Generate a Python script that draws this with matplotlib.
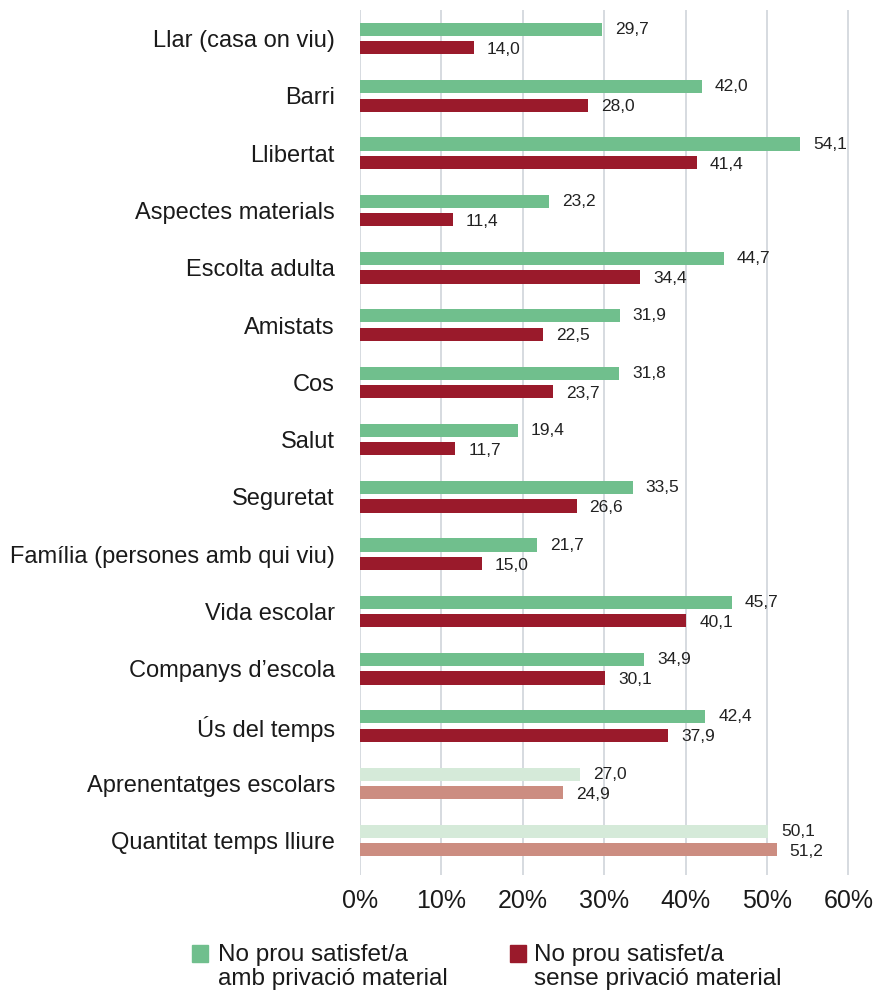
import matplotlib
matplotlib.use("Agg")
import matplotlib.pyplot as plt
from matplotlib.patches import Rectangle

plt.rcParams['font.family'] = ['Liberation Sans', 'DejaVu Sans']

categories = ["Llar (casa on viu)", "Barri", "Llibertat", "Aspectes materials",
              "Escolta adulta", "Amistats", "Cos", "Salut", "Seguretat",
              "Família (persones amb qui viu)", "Vida escolar", "Companys d’escola",
              "Ús del temps", "Aprenentatges escolars", "Quantitat temps lliure"]
amb_privacio = [29.7, 42.0, 54.1, 23.2, 44.7, 31.9, 31.8, 19.4, 33.5, 21.7, 45.7, 34.9, 42.4, 27.0, 50.1]
sense_privacio = [14.0, 28.0, 41.4, 11.4, 34.4, 22.5, 23.7, 11.7, 26.6, 15.0, 40.1, 30.1, 37.9, 24.9, 51.2]
xticks = [0, 10, 20, 30, 40, 50, 60]
legend_labels = ["No prou satisfet/a\namb privació material", "No prou satisfet/a\nsense privació material"]

green = "#70BF8D"
red = "#9A1A2B"
light_green = "#D5EAD9"
light_red = "#CC8D81"
n_light = 2  # last categories drawn in lighter tone

W, H = 875, 990
fig = plt.figure(figsize=(W/100, H/100), dpi=100)
ax = fig.add_axes([360/W, 1-875/H, (850-360)/W, (875-10)/H])

n = len(categories)
ys = list(range(n))
off = 0.16
h = 0.23
for i, (a, s) in enumerate(zip(amb_privacio, sense_privacio)):
    light = i >= n - n_light
    ax.barh(i - off, a, height=h, color=light_green if light else green, zorder=3)
    ax.barh(i + off, s, height=h, color=light_red if light else red, zorder=3)
    ax.text(a + 1.6, i - off, f"{a:.1f}".replace(".", ","), va="center", ha="left",
            fontsize=12.5, color="#222222")
    ax.text(s + 1.6, i + off + 0.03, f"{s:.1f}".replace(".", ","), va="center", ha="left",
            fontsize=12.5, color="#222222")

ax.set_ylim(n - 0.4, -0.5)
ax.set_xlim(0, 60.2)
ax.set_yticks(ys)
ax.set_yticklabels(categories, fontsize=17, color="#1a1a1a")
ax.set_xticks(xticks)
ax.set_xticklabels([f"{t}%" for t in xticks], fontsize=18, color="#1a1a1a")
ax.tick_params(axis="both", length=0)
ax.tick_params(axis="y", pad=18)
ax.tick_params(axis="x", pad=10)
for sp in ax.spines.values():
    sp.set_visible(False)
ax.grid(axis="x", color="#d0d4da", linewidth=1.2, zorder=0)
ax.set_axisbelow(True)

# legend built manually (square aligned with first text line)
for (sx, tx), col, lab in zip([(192, 218), (510, 534)], [green, red], legend_labels):
    fig.patches.append(Rectangle((sx/W, 1-962/H), 16/W, 17/H, transform=fig.transFigure,
                                 color=col, figure=fig))
    fig.text(tx/W, 1-944/H, lab, ha="left", va="top", fontsize=17.5,
             color="#1a1a1a", linespacing=1.12)

fig.savefig("out.png", dpi=100)
